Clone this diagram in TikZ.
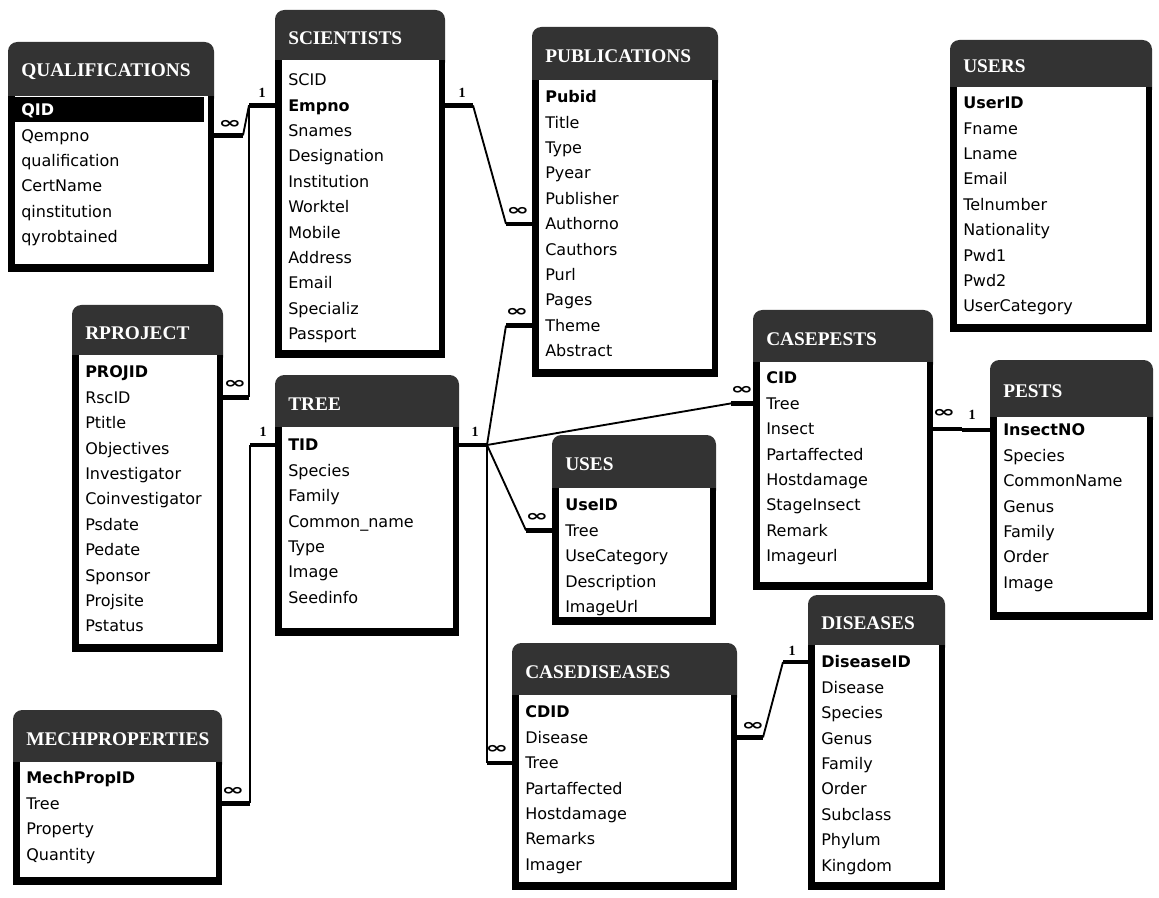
\documentclass[tikz,border=0pt]{standalone}
\usepackage{fontspec}
\setmainfont{DejaVu Sans}
\newfontfamily\headfont{Liberation Serif}
\usetikzlibrary{calc}

% vertical distance between two field rows
\newcommand\rowsep{25.4}

% table frame: name, left, top, right, bottom, title-bar bottom, title
\newcommand\dbframe[7]{%
  \fill[titlebar, rounded corners=7pt] (#2,#3) rectangle (#4,{#6+12});
  \fill[framefill] (#2,#6) rectangle (#4,#5);
  \fill[white] ({#2+7},#6) rectangle ({#4-6},{#5-8});
  \node[tablebox, minimum width={(#4-#2)*0.75pt}, minimum height={(#5-#3)*0.75pt}]
    (#1) at ({(#2+#4)/2},{(#3+#5)/2}) {};
  \node[heading] (#1-title) at ({#2+13},{(#3+#6)/2+3}) {#7};
}

% field rows: table name, left, y of first row, list of fields
\newcommand\dbfields[4]{%
  \foreach \f [count=\i] in {#4} {
    \node[field] (#1-\i) at ({#2+13},{#3+(\i-1)*\rowsep}) {\f};
  }
}

% relationship line: start point, stub length there, end point, stub length there
\newcommand\relation[4]{%
  \draw[stub] (#1) -- ++(#2,0);
  \draw[link] ($(#1)+(#2,0)$) -- ($(#3)+(#4,0)$);
  \draw[stub] ($(#3)+(#4,0)$) -- (#3);
}

% the "many" end mark
\newcommand\manymark{\scalebox{1.7}[1]{∞}}

\begin{document}
\begin{tikzpicture}[x=0.75pt,y=-0.75pt,
  titlebar/.style={fill=black!80},
  framefill/.style={fill=black},
  tablebox/.style={rectangle, inner sep=0pt, outer sep=0pt, draw=none},
  heading/.style={anchor=west, inner sep=0pt, text=white,
    font=\headfont\bfseries\fontsize{14.5}{16}\selectfont},
  field/.style={anchor=west, inner sep=0pt, text height=8.7pt, text depth=0pt,
    font=\fontsize{12}{14}\selectfont},
  stub/.style={line width=3.4pt},
  link/.style={line width=1.4pt},
  one/.style={inner sep=0pt, font=\headfont\bfseries\fontsize{10.5}{10.5}\selectfont},
  many/.style={inner sep=0pt, font=\bfseries\fontsize{12}{12}\selectfont}]

\fill[white] (0,0) rectangle (1159,898);
\useasboundingbox (0,0) rectangle (1159,898);

% ---------------- tables ----------------
\dbframe{qual}{8}{42}{214}{272}{96}{QUALIFICATIONS}
\fill[black] (10,97) rectangle (204,122);
\dbfields{qual}{8}{110}{\textcolor{white}{\textbf{QID}},Qempno,qualification,CertName,qinstitution,qyrobtained}

\dbframe{sci}{275}{10}{445}{358}{60}{SCIENTISTS}
\dbfields{sci}{275}{80}{SCID,\textbf{Empno},Snames,Designation,Institution,Worktel,Mobile,Address,Email,Specializ,Passport}

\dbframe{pub}{532}{27}{718}{377}{80}{PUBLICATIONS}
\dbfields{pub}{532}{97}{\textbf{Pubid},Title,Type,Pyear,Publisher,Authorno,Cauthors,Purl,Pages,Theme,Abstract}

\dbframe{users}{950}{40}{1152}{332}{87}{USERS}
\dbfields{users}{950}{103}{\textbf{UserID},Fname,Lname,Email,Telnumber,Nationality,Pwd1,Pwd2,UserCategory}

\dbframe{rproj}{72}{305}{223}{652}{355}{RPROJECT}
\dbfields{rproj}{72}{372}{\textbf{PROJID},RscID,Ptitle,Objectives,Investigator,Coinvestigator,Psdate,Pedate,Sponsor,Projsite,Pstatus}

\dbframe{tree}{275}{375}{459}{636}{427}{TREE}
\dbfields{tree}{275}{445}{\textbf{TID},Species,Family,Common\_name,Type,Image,Seedinfo}

\dbframe{uses}{552}{435}{716}{625}{488}{USES}
\dbfields{uses}{552}{505}{\textbf{UseID},Tree,UseCategory,Description,ImageUrl}

\dbframe{cpests}{753}{310}{933}{590}{362}{CASEPESTS}
\dbfields{cpests}{753}{378}{\textbf{CID},Tree,Insect,Partaffected,Hostdamage,StageInsect,Remark,Imageurl}

\dbframe{pests}{990}{360}{1153}{620}{417}{PESTS}
\dbfields{pests}{990}{430}{\textbf{InsectNO},Species,CommonName,Genus,Family,Order,Image}

\dbframe{dis}{808}{595}{945}{890}{645}{DISEASES}
\dbfields{dis}{808}{662}{\textbf{DiseaseID},Disease,Species,Genus,Family,Order,Subclass,Phylum,Kingdom}

\dbframe{cdis}{512}{643}{737}{890}{695}{CASEDISEASES}
\dbfields{cdis}{512}{712}{\textbf{CDID},Disease,Tree,Partaffected,Hostdamage,Remarks,Imager}

\dbframe{mech}{13}{710}{222}{885}{762}{MECHPROPERTIES}
\dbfields{mech}{13}{778}{\textbf{MechPropID},Tree,Property,Quantity}

% ---------------- relationships ----------------
% scientists 1 -- many qualifications / projects
\relation{sci.west |- sci-2}{-26}{qual.east |- qual-2}{29}
\relation{sci.west |- sci-2}{-26}{rproj.east |- rproj-2}{26}
\node[one]  (l-sci-w)   at ($(sci.west |- sci-2)+(-13,-13)$) {1};
\node[many] (l-qual)    at ($(qual.east |- qual-2)+(16,-11)$) {\manymark};
\node[many] (l-rproj)   at ($(rproj.east |- rproj-2)+(12,-13)$) {\manymark};

% scientists 1 -- many publications
\relation{sci.east |- sci-2}{28}{pub.west |- pub-6}{-26}
\node[one]  (l-sci-e)   at ($(sci.east |- sci-2)+(17,-13)$) {1};
\node[many] (l-pub-a)   at ($(pub.west |- pub-6)+(-14,-13)$) {\manymark};

% tree 1 -- many publications, case pests, uses, case diseases
\relation{tree.east |- tree-1}{28}{pub.west |- pub-10}{-26}
\relation{tree.east |- tree-1}{28}{cpests.west |- cpests-2}{-22}
\relation{tree.east |- tree-1}{28}{uses.west |- uses-2}{-26}
\relation{tree.east |- tree-1}{28}{cdis.west |- cdis-3}{-25}
\node[one]  (l-tree-e)  at ($(tree.east |- tree-1)+(16,-13)$) {1};
\node[many] (l-pub-t)   at ($(pub.west |- pub-10)+(-15,-13)$) {\manymark};
\node[many] (l-cpests)  at ($(cpests.west |- cpests-2)+(-11,-13)$) {\manymark};
\node[many] (l-uses)    at ($(uses.west |- uses-2)+(-15,-13)$) {\manymark};
\node[many] (l-cdis-t)  at ($(cdis.west |- cdis-3)+(-15,-13)$) {\manymark};

% tree 1 -- many mechanical properties
\relation{tree.west |- tree-1}{-25}{mech.east |- mech-2}{28}
\node[one]  (l-tree-w)  at ($(tree.west |- tree-1)+(-12,-13)$) {1};
\node[many] (l-mech)    at ($(mech.east |- mech-2)+(11,-12)$) {\manymark};

% pests 1 -- many case pests
\relation{cpests.east |- cpests-3}{29}{pests.west |- pests-1}{-28}
\node[many] (l-cpests-i) at ($(cpests.east |- cpests-3)+(11,-15)$) {\manymark};
\node[one]  (l-pests)    at ($(pests.west |- pests-1)+(-18,-15)$) {1};

% diseases 1 -- many case diseases
\relation{cdis.east |- cdis-2}{26}{dis.west |- dis-1}{-25}
\node[many] (l-cdis-d)  at ($(cdis.east |- cdis-2)+(16,-11)$) {\manymark};
\node[one]  (l-dis)     at ($(dis.west |- dis-1)+(-16,-11)$) {1};

\end{tikzpicture}
\end{document}
